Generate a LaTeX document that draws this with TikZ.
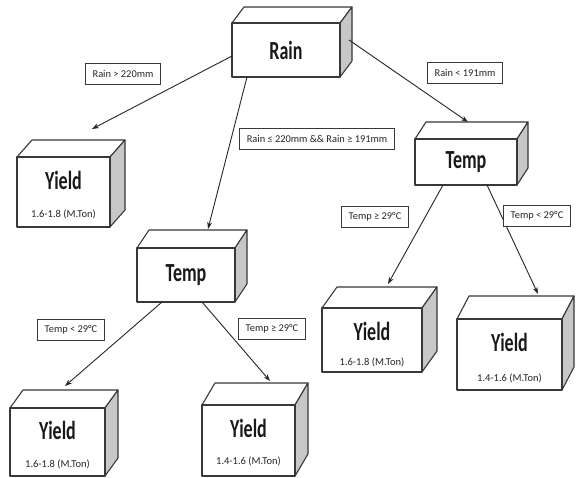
\documentclass[tikz,border=0pt]{standalone}
\usepackage{fontspec}
\setmainfont{Carlito}
\usetikzlibrary{arrows.meta,calc}

\definecolor{edgec}{gray}{0.22}
\definecolor{sidec}{gray}{0.78}
\definecolor{txtc}{gray}{0.15}

\tikzset{
  face/.style={draw=edgec, line width=1.1pt, line join=round},
  frontface/.style={face, fill=white, inner sep=0pt},
  sideface/.style={face, fill=sidec},
  topface/.style={face, fill=white},
  cond/.style={draw=edgec, line width=0.7pt, fill=white, inner xsep=7pt,
    minimum height=21pt, font=\fontsize{10.4}{11}\selectfont, text=txtc},
  arr/.style={line width=0.9pt, black!85, -{Stealth[length=7pt,width=5pt]}},
  title/.style={font=\fontsize{18}{18}\selectfont\bfseries, text=black!90,
    yscale=1.45},
  sub/.style={font=\fontsize{10.5}{11}\selectfont, text=txtc},
}

% A box: name, left, top, right, bottom (front face), depth dx, dy
\newcommand\drawbox[7]{%
  \pgfmathsetmacro\bw{#4-#2}%
  \pgfmathsetmacro\bh{#5-#3}%
  \pgfmathsetmacro\bcx{(#2+#4)/2}%
  \pgfmathsetmacro\bcy{(#3+#5)/2}%
  \draw[topface] (#2,#3) -- ++(#6,-#7) -- ++(\bw,0) -- (#4,#3) -- cycle;
  \draw[sideface] (#4,#3) -- ++(#6,-#7) -- ++(0,\bh) -- (#4,#5) -- cycle;
  \node[frontface, minimum width=\bw pt, minimum height=\bh pt] (#1) at (\bcx,\bcy) {};
}

\begin{document}
\begin{tikzpicture}[x=1pt,y=-1pt]
\useasboundingbox (0,0) rectangle (576,478);
\fill[white] (0,0) rectangle (576,478);

% decision boxes
\drawbox{rain}{232}{23}{340}{77}{12}{16}
\drawbox{tempR}{415}{139}{517}{185}{11}{17}
\drawbox{tempM}{137}{248}{235}{302}{12}{18}
\drawbox{yieldA}{17}{157}{110}{227}{15}{17}
\drawbox{yieldB}{10}{408}{105}{476}{13}{18}
\drawbox{yieldC}{202}{405}{295}{476}{13}{22}
\drawbox{yieldD}{322}{308}{422}{372}{15}{21}
\drawbox{yieldE}{457}{319}{562}{390}{12}{23}

% box texts
\node[title] (rainT) at (rain.center) {Rain};
\node[title] (tempRT) at (tempR.center) {Temp};
\node[title] (tempMT) at (tempM.center) {Temp};
\node[title] (yieldAT) at ([yshift=-24]yieldA.north) {Yield};
\node[sub] (yieldAS) at ([yshift=13]yieldA.south) {1.6-1.8 (M.Ton)};
\node[title] (yieldBT) at ([yshift=-23]yieldB.north) {Yield};
\node[sub] (yieldBS) at ([yshift=12]yieldB.south) {1.6-1.8 (M.Ton)};
\node[title] (yieldCT) at ([yshift=-24]yieldC.north) {Yield};
\node[sub] (yieldCS) at ([yshift=15]yieldC.south) {1.4-1.6 (M.Ton)};
\node[title] (yieldDT) at ([yshift=-24]yieldD.north) {Yield};
\node[sub] (yieldDS) at ([yshift=10]yieldD.south) {1.6-1.8 (M.Ton)};
\node[title] (yieldET) at ([yshift=-24]yieldE.north) {Yield};
\node[sub] (yieldES) at ([yshift=12]yieldE.south) {1.4-1.6 (M.Ton)};

% connector end points
\coordinate (rainL) at (232,56);
\coordinate (rainB) at (247,77);
\coordinate (rainR) at (349,40);
\coordinate (tempRa) at (443,185);
\coordinate (tempRb) at (487,185);
\coordinate (tempMa) at (162,302);
\coordinate (tempMb) at (202,302);
\coordinate (yieldAin) at (92,129);
\coordinate (tempMin) at (208,229);
\coordinate (tempRin) at (468,122);
\coordinate (yieldDin) at (388,284);
\coordinate (yieldEin) at (538,294);
\coordinate (yieldBin) at (65,386);
\coordinate (yieldCin) at (270,381);

\draw[arr] (rainL) -- (yieldAin);
\draw[arr] (rainB) -- (tempMin);
\draw[arr] (rainR) -- (tempRin);
\draw[arr] (tempRa) -- (yieldDin);
\draw[arr] (tempRb) -- (yieldEin);
\draw[arr] (tempMa) -- (yieldBin);
\draw[arr] (tempMb) -- (yieldCin);

% branch conditions
\node[cond] (c1) at (123,74) {Rain > 220mm};
\node[cond] (c2) at (317,139) {Rain ≤ 220mm \&\& Rain ≥ 191mm};
\node[cond] (c3) at (465,73) {Rain < 191mm};
\node[cond] (c4) at (375,217) {Temp ≥ 29°C};
\node[cond] (c5) at (537,216) {Temp < 29°C};
\node[cond] (c6) at (71,330) {Temp < 29°C};
\node[cond] (c7) at (272,329) {Temp ≥ 29°C};
\end{tikzpicture}
\end{document}
